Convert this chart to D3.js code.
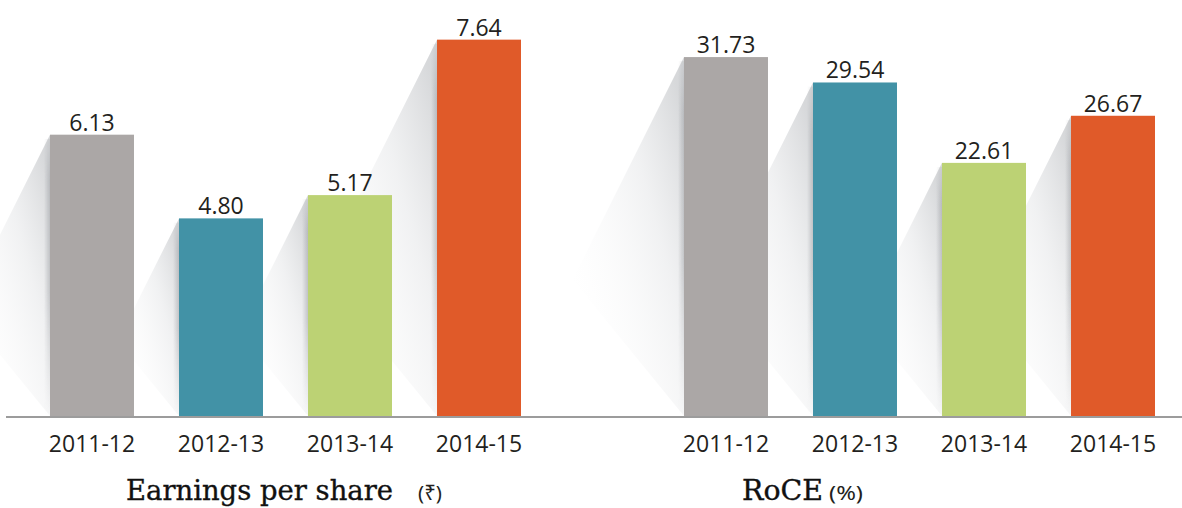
<!DOCTYPE html>
<html lang="en">
<head>
    <meta charset="UTF-8">
    <title>Earnings per share and RoCE</title>
    <script src="https://d3js.org/d3.v7.min.js"></script>
    <style>
        body { margin: 0; background: #fff; }
        .value { font-family: "Open Sans", sans-serif; font-size: 23px; fill: #231f20; }
        .cat { font-family: "Open Sans", sans-serif; font-size: 23px; fill: #231f20; }
        .title { font-family: "DejaVu Serif", serif; font-size: 27px; fill: #111; stroke: #111; stroke-width: 0.35px; }
        .unit { font-family: "Noto Sans", "Open Sans", sans-serif; font-size: 20px; fill: #231f20; }
    </style>
</head>
<body>
<div id="chart"></div>
<script>
    // data
    var years = ["2011-12", "2012-13", "2013-14", "2014-15"];
    var epsValues = [6.13, 4.80, 5.17, 7.64];
    var roceValues = [31.73, 29.54, 22.61, 26.67];
    var barColors = ["#aba7a6", "#4292a6", "#bcd274", "#e05a29"];

    var width = 1182, height = 508, baseY = 416;

    var svg = d3.select("#chart").append("svg")
        .attr("width", width)
        .attr("height", height);

    var defs = svg.append("defs");
    var shade = defs.append("linearGradient")
        .attr("id", "shade")
        .attr("x1", 1).attr("y1", 0.15)
        .attr("x2", 0.15).attr("y2", 0.9);
    shade.append("stop").attr("offset", 0).attr("stop-color", "#aeb1b5").attr("stop-opacity", 0.5);
    shade.append("stop").attr("offset", 0.35).attr("stop-color", "#d6d8db").attr("stop-opacity", 0.35);
    shade.append("stop").attr("offset", 0.8).attr("stop-color", "#eeeff0").attr("stop-opacity", 0.1);
    shade.append("stop").attr("offset", 1).attr("stop-color", "#ffffff").attr("stop-opacity", 0);

    var edge = defs.append("linearGradient")
        .attr("id", "edge")
        .attr("x1", 0).attr("x2", 1).attr("y1", 0).attr("y2", 0);
    edge.append("stop").attr("offset", 0).attr("stop-color", "#8a8d92").attr("stop-opacity", 0);
    edge.append("stop").attr("offset", 1).attr("stop-color", "#8a8d92").attr("stop-opacity", 0.4);

    // vertical fade for the dark band next to each bar
    var vfade = defs.append("linearGradient")
        .attr("id", "vfade")
        .attr("x1", 0).attr("x2", 0).attr("y1", 0).attr("y2", 1);
    vfade.append("stop").attr("offset", 0).attr("stop-color", "#fff").attr("stop-opacity", 0.4);
    vfade.append("stop").attr("offset", 0.15).attr("stop-color", "#fff").attr("stop-opacity", 1);
    vfade.append("stop").attr("offset", 0.55).attr("stop-color", "#fff").attr("stop-opacity", 1);
    vfade.append("stop").attr("offset", 1).attr("stop-color", "#fff").attr("stop-opacity", 0);
    defs.append("mask")
        .attr("id", "edgeMask")
        .attr("maskContentUnits", "objectBoundingBox")
        .append("rect")
        .attr("width", 1).attr("height", 1)
        .attr("fill", "url(#vfade)");

    // bar heights are not exactly proportional in the original, these domains fit them best
    var panels = [
        { values: epsValues, range: [50, 521], domain: [1.66, 8.27], title: "Earnings per share", unit: "(\u20B9)",
          titleX: 126, titleLen: 267, unitX: 418, unitLen: 24 },
        { values: roceValues, range: [684, 1155], domain: [0.79, 36.65], title: "RoCE", unit: "(%)",
          titleX: 742, titleLen: 81, unitX: 829, unitLen: 34 }
    ];

    panels.forEach(function (p) {
        var x = d3.scaleBand()
            .domain(years)
            .range(p.range)
            .paddingInner(0.349)
            .paddingOuter(0);

        var y = d3.scaleLinear()
            .domain(p.domain)
            .range([baseY, 0]);

        var rows = years.map((yr, i) => ({ year: yr, value: p.values[i], color: barColors[i] }));

        // shadows first, so the bars sit on top
        var g = svg.append("g");
        g.selectAll(".shadow")
            .data(rows)
            .join("path")
            .attr("class", "shadow")
            .attr("fill", "url(#shade)")
            .attr("d", function (d) {
                var x0 = x(d.year), top = y(d.value), h = baseY - top;
                return "M" + x0 + "," + top +
                    "L" + (x0 - 0.31 * h) + "," + (top + 0.62 * h) +
                    "L" + x0 + "," + baseY + "Z";
            });

        g.selectAll(".edge")
            .data(rows)
            .join("rect")
            .attr("class", "edge")
            .attr("fill", "url(#edge)")
            .attr("mask", "url(#edgeMask)")
            .attr("x", d => x(d.year) - 6)
            .attr("y", d => y(d.value) + 4)
            .attr("width", 6)
            .attr("height", d => Math.max(0, baseY - y(d.value) - 4));

        g.selectAll(".bar")
            .data(rows)
            .join("rect")
            .attr("class", "bar")
            .attr("x", d => x(d.year))
            .attr("y", d => y(d.value))
            .attr("width", x.bandwidth())
            .attr("height", d => baseY - y(d.value))
            .attr("fill", d => d.color);

        g.selectAll(".value")
            .data(rows)
            .join("text")
            .attr("class", "value")
            .attr("x", d => x(d.year) + x.bandwidth() / 2)
            .attr("y", d => y(d.value) - 4)
            .attr("text-anchor", "middle")
            .text(d => d.value.toFixed(2));

        g.selectAll(".cat")
            .data(rows)
            .join("text")
            .attr("class", "cat")
            .attr("x", d => x(d.year) + x.bandwidth() / 2)
            .attr("y", 452)
            .attr("text-anchor", "middle")
            .text(d => d.year);

        g.append("text")
            .attr("class", "title")
            .attr("x", p.titleX)
            .attr("y", 500)
            .attr("textLength", p.titleLen)
            .attr("lengthAdjust", "spacingAndGlyphs")
            .text(p.title);

        g.append("text")
            .attr("class", "unit")
            .attr("x", p.unitX)
            .attr("y", 500)
            .attr("textLength", p.unitLen)
            .attr("lengthAdjust", "spacingAndGlyphs")
            .text(p.unit);
    });

    // baseline
    svg.append("line")
        .attr("x1", 6).attr("x2", width)
        .attr("y1", baseY + 1).attr("y2", baseY + 1)
        .attr("stroke", "#9c9c9c")
        .attr("stroke-width", 2);
</script>
</body>
</html>
